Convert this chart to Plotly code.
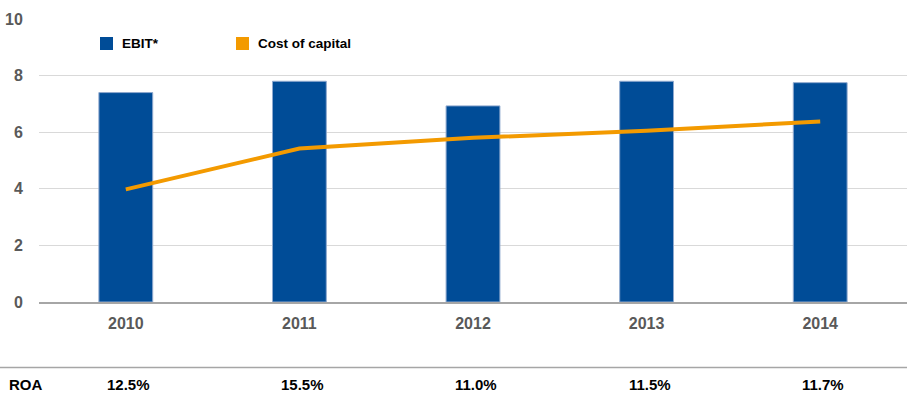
import plotly.graph_objects as go

# Data
years = ["2010", "2011", "2012", "2013", "2014"]
ebit = [7.4, 7.8, 6.93, 7.8, 7.75]
cost_of_capital = [3.98, 5.42, 5.8, 6.05, 6.38]
roa_labels = ["12.5%", "15.5%", "11.0%", "11.5%", "11.7%"]

BLUE = "#004C97"
ORANGE = "#F39A00"
TICK_GRAY = "#595959"
FONT = "Liberation Sans, Arial, sans-serif"

W, H = 907, 394
M_L, M_R, M_T, M_B = 39, 0, 19, 92
PW = W - M_L - M_R
PH = H - M_T - M_B


def px_to_paper_x(px):
    return (px - M_L) / PW


def px_to_paper_y(py):
    return (H - M_B - py) / PH


fig = go.Figure()

fig.add_trace(go.Bar(
    x=years, y=ebit, name="EBIT*",
    marker=dict(color=BLUE, line=dict(color="#8FA9CF", width=1)),
    width=0.31, showlegend=False,
))

fig.add_trace(go.Scatter(
    x=years, y=cost_of_capital, name="Cost of capital",
    mode="lines", line=dict(color=ORANGE, width=4),
    showlegend=False,
))

annotations = []
shapes = []

# Legend drawn as squares + labels
legend_items = [("EBIT*", BLUE, 100, 120), ("Cost of capital", ORANGE, 236, 256)]
for label, color, sq_x, tx_x in legend_items:
    shapes.append(dict(
        type="rect", xref="paper", yref="paper",
        x0=px_to_paper_x(sq_x), x1=px_to_paper_x(sq_x + 13),
        y0=px_to_paper_y(50), y1=px_to_paper_y(37),
        fillcolor=color, line=dict(width=0),
    ))
    annotations.append(dict(
        text=label, xref="paper", yref="paper",
        x=px_to_paper_x(tx_x), y=px_to_paper_y(44),
        xanchor="left", yanchor="middle", showarrow=False,
        font=dict(family=FONT, size=13.5, color="#000000", weight="bold"),
    ))

# Separator above the ROA row
shapes.append(dict(
    type="line", xref="paper", yref="paper",
    x0=px_to_paper_x(0), x1=1,
    y0=px_to_paper_y(367.5), y1=px_to_paper_y(367.5),
    line=dict(color="#A6A6A6", width=1.5),
))

# ROA row
annotations.append(dict(
    text="ROA", xref="paper", yref="paper",
    x=px_to_paper_x(7), y=px_to_paper_y(385),
    xanchor="left", yanchor="middle", showarrow=False,
    font=dict(family=FONT, size=15, color="#000000", weight="bold"),
))
for i, lab in enumerate(roa_labels):
    annotations.append(dict(
        text=lab, x=i, xref="x", xshift=3, yref="paper",
        y=px_to_paper_y(385),
        xanchor="center", yanchor="middle", showarrow=False,
        font=dict(family=FONT, size=15, color="#000000", weight="bold"),
    ))

fig.update_layout(
    width=W, height=H,
    margin=dict(l=M_L, r=M_R, t=M_T, b=M_B, pad=0),
    paper_bgcolor="white", plot_bgcolor="white",
    shapes=shapes, annotations=annotations,
    bargap=0.69,
)

fig.update_xaxes(
    type="category", range=[-0.5, 4.5],
    showgrid=False, zeroline=False,
    showline=True, linecolor="#A6A6A6", linewidth=1.5,
    ticks="outside", ticklen=6, tickcolor="rgba(0,0,0,0)",
    tickfont=dict(family=FONT, size=16, color=TICK_GRAY, weight="bold"),
    fixedrange=True,
)

fig.update_yaxes(
    range=[0, 10], tickvals=[0, 2, 4, 6, 8, 10],
    showgrid=True, gridcolor="#D9D9D9", gridwidth=1,
    zeroline=False, showline=False,
    ticks="outside", ticklen=12, tickcolor="rgba(0,0,0,0)",
    tickfont=dict(family=FONT, size=16, color=TICK_GRAY, weight="bold"),
    fixedrange=True,
)

fig.write_html("out.html", config={"displayModeBar": False})
